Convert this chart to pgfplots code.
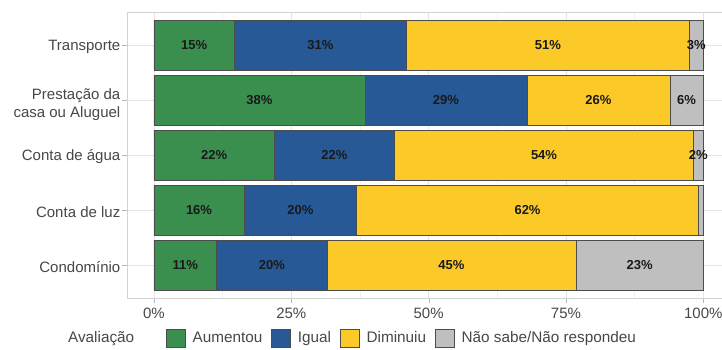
\documentclass[border=0pt]{standalone}
\usepackage{fontspec}
\setmainfont{Liberation Sans}
\usepackage{pgfplots}
\usepackage{pgfplotstable}
\pgfplotsset{compat=1.18}
\definecolor{cGreen}{HTML}{3A8F4E}
\definecolor{cBlue}{HTML}{265996}
\definecolor{cYellow}{HTML}{FCCA28}
\definecolor{cGray}{HTML}{BFBFBF}

\pgfplotstableread{
y a b c d la lb lc ld
5 14.6 31.4 51.4 2.6 15\% 31\% 51\% 3\%
4 38.4 29.5 26.0 6.1 38\% 29\% 26\% 6\%
3 21.9 21.9 54.4 1.8 22\% 22\% 54\% 2\%
2 16.4 20.5 62.2 0.9 16\% 20\% 62\% {}
1 11.4 20.1 45.3 23.2 11\% 20\% 45\% 23\%
}\data

\begin{document}
\begin{tikzpicture}
\begin{axis}[
  at={(127pt,51pt)}, anchor=south west,
  scale only axis, width=595pt, height=286pt,
  xmin=-4.91, xmax=103.4, ymin=0.4, ymax=5.6,
  xbar stacked, bar width=0.9,
  ytick={1,2,3,5},
  yticklabels={Condomínio, Conta de luz, Conta de água, Transporte},
  extra y ticks={4},
  extra y tick labels={{Prestação da\\casa ou Aluguel}},
  extra y tick style={ymajorgrids, yticklabel style={align=right, yshift=-3pt}},
  xtick={0,25,50,75,100},
  xticklabels={0\%,25\%,50\%,75\%,100\%},
  minor xtick={12.5,37.5,62.5,87.5},
  xmajorgrids, ymajorgrids, xminorgrids,
  major grid style={gray!20, line width=0.6pt},
  minor grid style={gray!12, line width=0.4pt},
  axis line style={gray!35},
  tick align=outside, major tick length=5pt, minor tick length=0pt,
  tick style={gray!55},
  xtick pos=bottom, ytick pos=left,
  ticklabel style={font=\fontsize{15}{18}\selectfont, text=black!72},
  yticklabel style={inner sep=1.5pt, yshift=-2pt},
  xticklabel style={inner sep=2pt, yshift=-3pt},
  legend image code/.code={\draw[#1, draw=black!70, line width=0.5pt] (0pt,-9pt) rectangle (19pt,9pt);},
  legend style={draw=none, fill=none, at={(-0.111,-0.14)}, anchor=west,
    legend columns=-1, font=\fontsize{15.3}{18}\selectfont, text=black!72, inner sep=0pt,
    /tikz/every odd column/.append style={column sep=5pt},
    /tikz/every even column/.append style={column sep=7pt}},
  legend cell align=left,
]
\addlegendimage{empty legend}
\addlegendentry{\makebox[89pt][l]{Avaliação}}
\addplot[fill=cGreen, draw=black!70, line width=0.5pt] table[x=a, y=y]{\data};
\addlegendentry{Aumentou}
\addplot[fill=cBlue, draw=black!70, line width=0.5pt] table[x=b, y=y]{\data};
\addlegendentry{Igual}
\addplot[fill=cYellow, draw=black!70, line width=0.5pt] table[x=c, y=y]{\data};
\addlegendentry{Diminuiu}
\addplot[fill=cGray, draw=black!70, line width=0.5pt] table[x=d, y=y]{\data};
\addlegendentry{Não sabe/Não respondeu}
\end{axis}
\begin{axis}[
  at={(127pt,51pt)}, anchor=south west,
  scale only axis, width=595pt, height=286pt,
  xmin=-4.91, xmax=103.4, ymin=0.4, ymax=5.6,
  hide axis, clip=false,
  nodes near coords style={anchor=center, font=\bfseries\fontsize{13}{15}\selectfont, text=black!90},
]
\addplot[draw=none, mark=none, nodes near coords, point meta=explicit symbolic]
  table[x expr=\thisrow{a}/2, y=y, meta=la]{\data};
\addplot[draw=none, mark=none, nodes near coords, point meta=explicit symbolic]
  table[x expr=\thisrow{a}+\thisrow{b}/2, y=y, meta=lb]{\data};
\addplot[draw=none, mark=none, nodes near coords, point meta=explicit symbolic]
  table[x expr=\thisrow{a}+\thisrow{b}+\thisrow{c}/2, y=y, meta=lc]{\data};
\addplot[draw=none, mark=none, nodes near coords, point meta=explicit symbolic]
  table[x expr=\thisrow{a}+\thisrow{b}+\thisrow{c}+\thisrow{d}/2, y=y, meta=ld]{\data};
\end{axis}
\pgfresetboundingbox
\path (0,0) rectangle (722pt,349pt);
\end{tikzpicture}
\end{document}
